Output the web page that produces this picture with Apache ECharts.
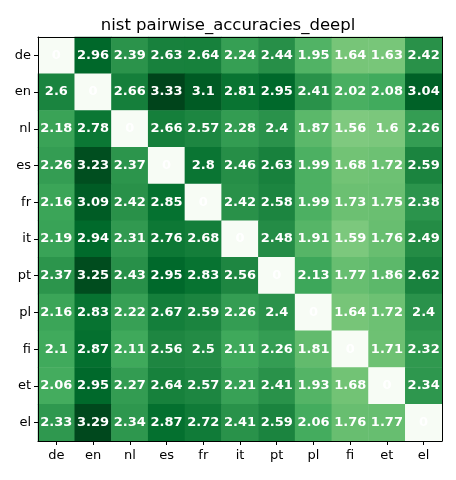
<!DOCTYPE html>
<html><head><meta charset="utf-8">
<script src="https://cdn.jsdelivr.net/npm/echarts@6/dist/echarts.min.js"></script>
<style>html,body{margin:0;padding:0;background:#fff}#c{width:456px;height:480px}</style>
</head><body><div id="c"></div>
<script>
const langs = ['de','en','nl','es','fr','it','pt','pl','fi','et','el'];
const row_de = [0, 2.96, 2.39, 2.63, 2.64, 2.24, 2.44, 1.95, 1.64, 1.63, 2.42];
const row_en = [2.6, 0, 2.66, 3.33, 3.1, 2.81, 2.95, 2.41, 2.02, 2.08, 3.04];
const row_nl = [2.18, 2.78, 0, 2.66, 2.57, 2.28, 2.4, 1.87, 1.56, 1.6, 2.26];
const row_es = [2.26, 3.23, 2.37, 0, 2.8, 2.46, 2.63, 1.99, 1.68, 1.72, 2.59];
const row_fr = [2.16, 3.09, 2.42, 2.85, 0, 2.42, 2.58, 1.99, 1.73, 1.75, 2.38];
const row_it = [2.19, 2.94, 2.31, 2.76, 2.68, 0, 2.48, 1.91, 1.59, 1.76, 2.49];
const row_pt = [2.37, 3.25, 2.43, 2.95, 2.83, 2.56, 0, 2.13, 1.77, 1.86, 2.62];
const row_pl = [2.16, 2.83, 2.22, 2.67, 2.59, 2.26, 2.4, 0, 1.64, 1.72, 2.4];
const row_fi = [2.1, 2.87, 2.11, 2.56, 2.5, 2.11, 2.26, 1.81, 0, 1.71, 2.32];
const row_et = [2.06, 2.95, 2.27, 2.64, 2.57, 2.21, 2.41, 1.93, 1.68, 0, 2.34];
const row_el = [2.33, 3.29, 2.34, 2.87, 2.72, 2.41, 2.59, 2.06, 1.76, 1.77, 0];
const rows = [row_de,row_en,row_nl,row_es,row_fr,row_it,row_pt,row_pl,row_fi,row_et,row_el];
const greens = ['#f7fcf5','#e5f5e0','#c7e9c0','#a1d99b','#74c476','#41ab5d','#238b45','#006d2c','#00441b'];

const data = [];
rows.forEach((r, i) => r.forEach((v, j) => data.push([j, i, v])));
const vmax = Math.max(...data.map(d => d[2]));

const font = 'DejaVu Sans';
const chart = echarts.init(document.getElementById('c'), null, {renderer: 'canvas'});
const catAxis = (pos, show) => ({
  type: 'category', data: langs, position: pos, inverse: false,
  axisLine: {show: true, lineStyle: {color: '#000', width: 1}},
  axisTick: {show: show, alignWithLabel: true, length: 4, lineStyle: {color: '#000'}},
  axisLabel: {show: show, color: '#000', fontFamily: font, fontSize: 13, margin: 8},
  splitLine: {show: false}, z: 10
});
const xb = catAxis('bottom', true);
const xt = catAxis('top', false);
const yl = catAxis('left', true); yl.inverse = true; yl.axisLabel.margin = 7;
const yr = catAxis('right', false); yr.inverse = true;
chart.setOption({
  animation: false,
  title: {text: 'nist pairwise_accuracies_deepl', left: 'center', top: 12,
    textStyle: {fontFamily: font, fontSize: 16.5, fontWeight: 'normal', color: '#000'}},
  grid: {left: 38, top: 37, width: 404, height: 404},
  xAxis: [xb, xt],
  yAxis: [yl, yr],
  visualMap: {show: false, min: 0, max: vmax, dimension: 2, seriesIndex: 0,
    inRange: {color: greens}},
  series: [{
    type: 'heatmap', data: data, xAxisIndex: 0, yAxisIndex: 0,
    label: {show: true, color: '#fff', fontFamily: font, fontWeight: 'bold', fontSize: 13,
      formatter: p => String(p.value[2])},
    itemStyle: {borderWidth: 0}
  }]
});
</script></body></html>
